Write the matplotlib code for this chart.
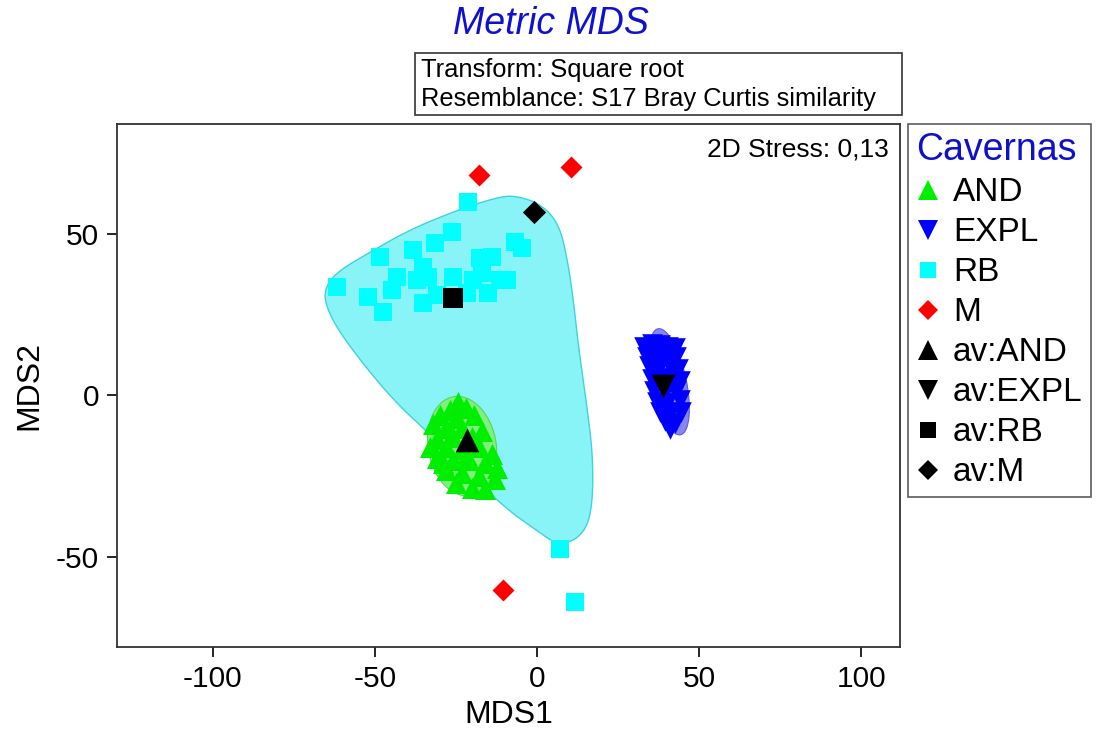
import matplotlib
matplotlib.use("Agg")
import matplotlib.pyplot as plt
from matplotlib.patches import Ellipse, Polygon, Rectangle
from matplotlib.lines import Line2D
import numpy as np

plt.rcParams['font.family'] = ['Liberation Sans', 'DejaVu Sans']
plt.rcParams['axes.unicode_minus'] = False

# MDS coordinates per cave group
and_x = [-24.5, -22, -27, -30, -19.5, -25, -32, -28, -23, -17, -20, -26, -31, -33, -28, -23,
         -18, -14, -31, -26, -21, -16, -12.5, -28, -23, -18, -13, -25, -20, -16, -22, -29]
and_y = [-2, -4, -4.5, -6, -6, -7, -9, -10, -10, -11, -13, -13, -13.5, -16, -16, -16.5,
         -16, -18, -19.5, -20, -20, -21, -22.5, -23, -24, -25, -26, -27, -28.5, -29, -19, -21]

expl_x = [33, 35.5, 38, 40.5, 42.5, 34, 37, 40, 43, 34.5, 37.5, 41, 43.5, 35.5, 38.5, 42, 44,
          36, 39.5, 43, 37, 40, 44, 38, 41, 44.5, 39.5, 42.5, 41]
expl_y = [15, 16, 15.5, 15, 14.5, 12, 12.5, 11.5, 12, 9, 8.5, 9, 8, 5, 5.5, 5, 4.5,
          1.5, 1, 1.5, -2, -2.5, -1.5, -5, -5.5, -5, -8, -8.5, -10.5]

rb_x = [-21.3, -26.2, -31.4, -38.2, -48.4, -6.8, -4.6, -61.6, -43.1, -35.1, -33.6, -37.0, -44.7,
        -52.1, -47.5, -35.1, -30.8, -25.9, -17.6, -13.9, -16.9, -19.7, -11.4, -15.1, -9.2, -21.6,
        7.1, 11.7]
rb_y = [59.8, 50.5, 47.1, 45.0, 42.8, 47.5, 45.6, 33.6, 36.7, 39.8, 36.7, 35.7, 32.7,
        30.5, 25.9, 28.7, 31.1, 36.7, 42.5, 42.8, 37.9, 35.7, 35.7, 31.7, 35.7, 31.7,
        -47.5, -63.8]

m_x = [-17.9, 10.5, -10.5]
m_y = [68.1, 70.6, -60.1]

# group averages
av_and = (-21.6, -13.9)
av_expl = (38.8, 2.8)
av_rb = (-25.9, 30.2)
av_m = (-0.9, 56.7)

# outline around the RB samples
rb_hull_x = [-65.5, -62.0, -51.5, -39.1, -23.7, -12.3, -6.8, 1.2, 6.8, 9.4, 11.2, 12.9, 15.1,
             17.4, 16.9, 13.0, 6.4, 0.6, -11.6, -34.2, -42.6, -52.0, -61.3, -65.2]
rb_hull_y = [33.0, 38.0, 44.3, 51.3, 57.6, 61.2, 61.8, 59.2, 53.0, 41.9, 29.6, 14.2, -1.2,
             -19.7, -37.2, -44.3, -46.2, -42.3, -33.5, -10.9, -3.2, 7.6, 20.0, 27.8]


def chaikin(pts, n=3):
    # corner cutting on a closed polygon
    for _ in range(n):
        nxt = np.roll(pts, -1, axis=0)
        q = 0.75 * pts + 0.25 * nxt
        r = 0.25 * pts + 0.75 * nxt
        pts = np.empty((2 * len(q), 2))
        pts[0::2] = q
        pts[1::2] = r
    return pts


fig = plt.figure(figsize=(11.01, 7.31), dpi=100)
ax = fig.add_axes([117 / 1101, 1 - 647 / 731, (900 - 117) / 1101, (647 - 124) / 731])

hull = chaikin(np.column_stack([rb_hull_x, rb_hull_y]))
ax.add_patch(Polygon(hull, closed=True, facecolor='#88f4f8', edgecolor='#3fd3da', lw=1, zorder=1))
ax.add_patch(Ellipse((-23.1, -15.7), 21, 31, angle=10, facecolor='#7ef07e', edgecolor='#5cd35c',
                     lw=0.8, zorder=2))
ax.add_patch(Ellipse((40.8, 4.2), 10.5, 33.5, angle=12, facecolor='#8585f5', edgecolor='#5c5cd8',
                     lw=0.8, zorder=2))

ax.scatter(rb_x, rb_y, marker='s', s=175, color='#00ffff', linewidths=0, zorder=3)
ax.scatter(and_x, and_y, marker='^', s=230, color='#00ee00', linewidths=0, zorder=3)
ax.scatter(expl_x, expl_y, marker='v', s=220, color='#0000ff', linewidths=0, zorder=3)
ax.scatter(m_x, m_y, marker='D', s=125, color='#ff0000', linewidths=0, zorder=3)

ax.scatter(*av_and, marker='^', s=290, color='black', linewidths=0, zorder=4)
ax.scatter(*av_expl, marker='v', s=290, color='black', linewidths=0, zorder=4)
ax.scatter(*av_rb, marker='s', s=190, color='black', linewidths=0, zorder=4)
ax.scatter(*av_m, marker='D', s=140, color='black', linewidths=0, zorder=4)

ax.set_xlim(-129.6, 112)
ax.set_ylim(-77.8, 83.9)
ax.set_xticks([-100, -50, 0, 50, 100])
ax.set_yticks([-50, 0, 50])
ax.tick_params(direction='out', length=7, width=1.2, labelsize=21.5, pad=6)
for sp in ax.spines.values():
    sp.set_linewidth(1.3)
    sp.set_color('#333333')
ax.set_xlabel('MDS1', fontsize=23, labelpad=5)
ax.set_ylabel('MDS2', fontsize=23, labelpad=8)

ax.text(0.985, 0.975, '2D Stress: 0,13', transform=ax.transAxes, ha='right', va='top', fontsize=19)

# legend
handles = [
    Line2D([], [], ls='', marker='^', ms=14, color='#00ee00', mew=0),
    Line2D([], [], ls='', marker='v', ms=14, color='#0000ff', mew=0),
    Line2D([], [], ls='', marker='s', ms=12, color='#00ffff', mew=0),
    Line2D([], [], ls='', marker='D', ms=10, color='#ff0000', mew=0),
    Line2D([], [], ls='', marker='^', ms=14, color='black', mew=0),
    Line2D([], [], ls='', marker='v', ms=14, color='black', mew=0),
    Line2D([], [], ls='', marker='s', ms=12, color='black', mew=0),
    Line2D([], [], ls='', marker='D', ms=10, color='black', mew=0),
]
labels = ['AND', 'EXPL', 'RB', 'M', 'av:AND', 'av:EXPL', 'av:RB', 'av:M']
leg = ax.legend(handles, labels, title='Cavernas', loc='upper left', bbox_to_anchor=(1.0102, 1.0),
                borderaxespad=0, fontsize=24, title_fontsize=27, frameon=True, fancybox=False,
                edgecolor='#333333', handlelength=0.7, handletextpad=0.4, labelspacing=0.27,
                borderpad=0.25, alignment='left')
leg.get_frame().set_linewidth(1.2)
leg.get_title().set_color('#1010c8')

# title and info box
fig.text(551 / 1101, 1 - 24 / 731, 'Metric MDS', ha='center', va='center', fontsize=27,
         style='italic', color='#1010d0')
fig.patches.append(Rectangle((415 / 1101, 1 - 115 / 731), (902 - 415) / 1101, 62 / 731,
                             transform=fig.transFigure, fill=False, edgecolor='#333333', lw=1.2))
fig.text(421 / 1101, 1 - 70 / 731, 'Transform: Square root', ha='left', va='center', fontsize=18.4)
fig.text(421 / 1101, 1 - 99 / 731, 'Resemblance: S17 Bray Curtis similarity', ha='left',
         va='center', fontsize=18.4)

fig.savefig('out.png', dpi=100)
